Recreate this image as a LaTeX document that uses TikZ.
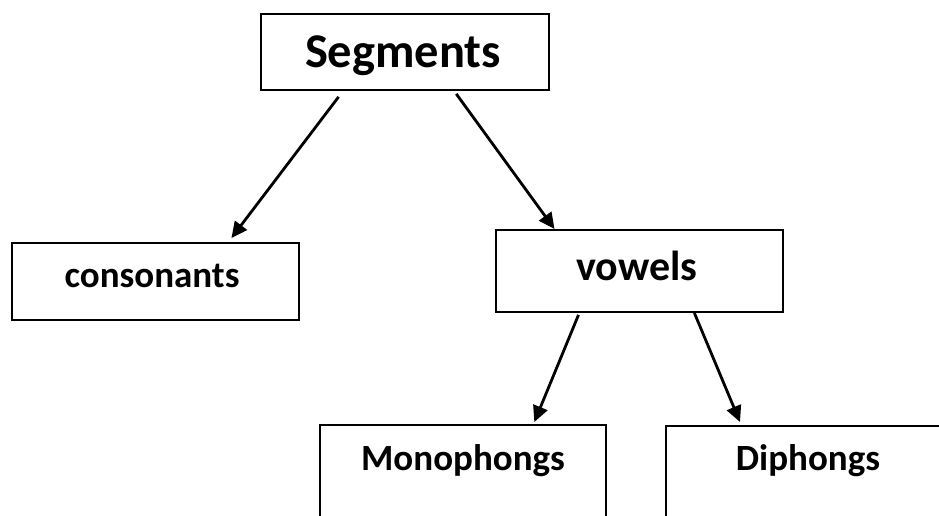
\documentclass[tikz,border=0pt]{standalone}
\usepackage{fontspec}
\setmainfont{Carlito}
\usetikzlibrary{calc,arrows.meta}
\begin{document}
\begin{tikzpicture}[x=1pt,y=-1pt,
  box/.style={draw=black,line width=1.9pt,rectangle,inner sep=0pt},
  lbl/.style={anchor=base,font=\bfseries,inner sep=0pt},
  arr/.style={line width=2.8pt,-{Triangle[length=16pt,width=15pt]}}]
\useasboundingbox[fill=white] (0,0) rectangle (939,515);
% boxes
\node[box,minimum width=288pt,minimum height=76pt,anchor=north west] (seg) at (260,13) {};
\node[box,minimum width=287pt,minimum height=77pt,anchor=north west] (con) at (11,242) {};
\node[box,minimum width=287pt,minimum height=82pt,anchor=north west] (vow) at (495,229) {};
\node[box,minimum width=286pt,minimum height=120pt,anchor=north west] (mono) at (319,424) {};
\node[box,minimum width=320pt,minimum height=120pt,anchor=north west] (di) at (665,425) {};
% labels
\node[lbl,font=\bfseries\fontsize{48.5}{52}\selectfont] (tseg) at (403,67) {Segments};
\node[lbl,font=\bfseries\fontsize{37}{42}\selectfont] (tcon) at (152,287) {consonants};
\node[lbl,font=\bfseries\fontsize{42}{46}\selectfont] (tvow) at (637,280) {vowels};
\node[lbl,font=\bfseries\fontsize{37}{42}\selectfont] (tmono) at (463,470) {Monophongs};
\node[lbl,font=\bfseries\fontsize{37}{42}\selectfont] (tdi) at (808,470) {Diphongs};
% connector endpoints
\coordinate (s1) at ($(seg.south west)!0.271!(seg.south east)+(0,6)$);
\coordinate (s2) at ($(seg.south west)!0.677!(seg.south east)+(0,3)$);
\coordinate (c1) at ($(con.north west)!0.763!(con.north east)+(0,-4)$);
\coordinate (v1) at ($(vow.north west)!0.206!(vow.north east)$);
\coordinate (v2) at ($(vow.south west)!0.289!(vow.south east)+(0,2)$);
\coordinate (v3) at ($(vow.south west)!0.690!(vow.south east)$);
\coordinate (m1) at ($(mono.north west)!0.748!(mono.north east)+(0,-2)$);
\coordinate (d1) at ($(di.north west)+(75,-3)$);
\draw[arr] (s1) -- (c1);
\draw[arr] (s2) -- (v1);
\draw[arr] (v2) -- (m1);
\draw[arr] (v3) -- (d1);
\end{tikzpicture}
\end{document}
